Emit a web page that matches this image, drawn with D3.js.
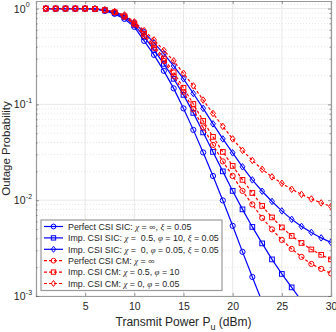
<!DOCTYPE html>
<html lang="en">
<head>
<meta charset="utf-8">
<title>Outage Probability</title>
<style>
body { margin: 0; background: #fff; }
text { font-family: "Liberation Sans", Arial, sans-serif; fill: #262626; }
.grid line { stroke: #e3e3e3; stroke-width: 0.8; }
.minor line { stroke: #d6d6d6; stroke-width: 0.6; stroke-dasharray: 1,2; }
.greek { font-family: "Liberation Serif", "DejaVu Serif", serif; font-style: italic; }
</style>
</head>
<body>
<div id="chart"></div>
<script src="https://d3js.org/d3.v7.min.js"></script>
<script>

const width = 336,
    height = 332,
    margin = ({ top: 1, right: 5, bottom: 36, left: 36 })

// transmit power (dBm)
var power = d3.range(1, 31);

var xTicks = [5, 10, 15, 20, 25, 30];
var yTicks = [1e-3, 1e-2, 1e-1, 1];
var yTickExp = ["-3", "-2", "-1", "0"];

// outage probability
var perfectSIC = [1, 1, 1, 1, 1, 0.99, 0.946, 0.88, 0.78, 0.644, 0.46, 0.329, 0.224, 0.147, 0.0908,
  0.0542, 0.0315, 0.0179, 0.00995, 0.0054, 0.00289, 0.00158, 0.000867, 0.00048];
var impSIC05 = [1, 1, 1, 1, 1, 0.992, 0.957, 0.902, 0.809, 0.676, 0.507, 0.371, 0.265, 0.185, 0.1257,
  0.0815, 0.051, 0.0319, 0.02, 0.0125, 0.00802, 0.00526, 0.00354, 0.00241, 0.0017, 0.00123, 0.00089, 0.00065];
var impSIC0 = [1, 1, 1, 1, 1, 0.994, 0.969, 0.924, 0.839, 0.709, 0.565, 0.438, 0.337, 0.252, 0.185,
  0.13, 0.0908, 0.0626, 0.0436, 0.0312, 0.0223, 0.0163, 0.0124, 0.0097, 0.00773, 0.00631, 0.00533, 0.00461, 0.00404, 0.00363];
var perfectCM = [1, 1, 1, 1, 1, 0.993, 0.962, 0.913, 0.819, 0.684, 0.519, 0.389, 0.284, 0.198, 0.135,
  0.0887, 0.0575, 0.0378, 0.0254, 0.0179, 0.0125, 0.00904, 0.00653, 0.00496, 0.00385, 0.0031, 0.00256, 0.00216, 0.00192, 0.00172];
var impCM05 = [1, 1, 1, 1, 1, 0.993, 0.965, 0.917, 0.829, 0.701, 0.545, 0.413, 0.302, 0.216, 0.149,
  0.101, 0.0673, 0.0458, 0.0319, 0.0228, 0.0163, 0.0119, 0.00871, 0.00661, 0.0052, 0.00424, 0.00358, 0.00306, 0.00269, 0.00241];
var impCM0 = [1, 1, 1, 1, 1, 0.995, 0.969, 0.93, 0.859, 0.727, 0.589, 0.471, 0.366, 0.285, 0.211,
  0.156, 0.111, 0.0805, 0.0589, 0.0436, 0.0331, 0.026, 0.021, 0.0175, 0.015, 0.013, 0.0115, 0.0103, 0.00937, 0.00861];

var series = [
  { values: perfectSIC, color: "#0000ff", dash: null, marker: "circle",
    label: [["Perfect CSI SIC: ", 0], ["χ", 1], [" = ∞, ", 0], ["ξ", 1], [" = 0.05", 0]] },
  { values: impSIC05, color: "#0000ff", dash: null, marker: "square",
    label: [["Imp. CSI SIC: ", 0], ["χ", 1], [" =  0.5, ", 0], ["φ", 1], [" = 10, ", 0], ["ξ", 1], [" = 0.05", 0]] },
  { values: impSIC0, color: "#0000ff", dash: null, marker: "diamond",
    label: [["Imp. CSI SIC: ", 0], ["χ", 1], [" =  0, ", 0], ["φ", 1], [" = 0.05, ", 0], ["ξ", 1], [" = 0.05", 0]] },
  { values: perfectCM, color: "#ff0000", dash: "3,2", marker: "circle",
    label: [["Perfect CSI CM: ", 0], ["χ", 1], [" = ∞", 0]] },
  { values: impCM05, color: "#ff0000", dash: "3,2", marker: "square",
    label: [["Imp. CSI CM: ", 0], ["χ", 1], [" = 0.5, ", 0], ["φ", 1], [" = 10", 0]] },
  { values: impCM0, color: "#ff0000", dash: "3,2", marker: "diamond",
    label: [["Imp. CSI CM: ", 0], ["χ", 1], [" = 0, ", 0], ["φ", 1], [" = 0.05", 0]] }
];

var svg = d3.select("#chart")
    .append("svg")
    .attr("width", width)
    .attr("height", height);

var x = d3.scaleLinear()
    .domain([0, 30])
    .range([margin.left, width - margin.right]);

var y = d3.scaleLog()
    .domain([1e-3, 1.2])
    .range([height - margin.bottom, margin.top]);

var x0 = x.range()[0], x1 = x.range()[1],
    y0 = y.range()[0], y1 = y.range()[1];

// minor grid (dotted)
var minorVals = [];
[1e-3, 1e-2, 1e-1].forEach(function(d) {
  for (var k = 2; k <= 9; k++) minorVals.push(d * k);
});
minorVals.push(1.1);

svg.append("g").attr("class", "minor")
  .selectAll("line").data(minorVals).enter().append("line")
    .attr("x1", x0).attr("x2", x1)
    .attr("y1", function(d) { return y(d); })
    .attr("y2", function(d) { return y(d); });

// major grid
var grid = svg.append("g").attr("class", "grid");
grid.selectAll(".gx").data(xTicks).enter().append("line")
    .attr("x1", function(d) { return x(d); })
    .attr("x2", function(d) { return x(d); })
    .attr("y1", y0).attr("y2", y1);
grid.selectAll(".gy").data(yTicks).enter().append("line")
    .attr("x1", x0).attr("x2", x1)
    .attr("y1", function(d) { return y(d); })
    .attr("y2", function(d) { return y(d); });

// axes (ticks inside, box on)
var axisColor = "#9a9a9a";
var xAxis = svg.append("g")
    .attr("transform", "translate(0," + y0 + ")")
    .call(d3.axisBottom(x).tickValues(xTicks).tickSize(-3).tickPadding(6.5).tickFormat(d3.format("d")));
var xAxisTop = svg.append("g")
    .attr("transform", "translate(0," + y1 + ")")
    .call(d3.axisTop(x).tickValues(xTicks).tickSize(-3).tickFormat(""));

var allY = yTicks.concat(minorVals.filter(function(d) { return d < 1; }));
var yAxis = svg.append("g")
    .attr("transform", "translate(" + x0 + ",0)")
    .call(d3.axisLeft(y).tickValues(allY).tickSize(-3).tickFormat(""));
var yAxisRight = svg.append("g")
    .attr("transform", "translate(" + x1 + ",0)")
    .call(d3.axisRight(y).tickValues(allY).tickSize(-3).tickFormat(""));

// shorter minor ticks
[yAxis, yAxisRight].forEach(function(a) {
  a.selectAll(".tick line")
    .attr("x2", function(d) {
      var s = yTicks.indexOf(d) >= 0 ? 3 : 1.6;
      return a === yAxis ? s : -s;
    });
});

[xAxis, xAxisTop, yAxis, yAxisRight].forEach(function(a) {
  a.select(".domain").attr("stroke", axisColor).attr("stroke-width", 1.2);
  a.selectAll(".tick line").attr("stroke", "#555").attr("stroke-width", 0.6);
});

xAxis.selectAll(".tick text")
    .attr("font-size", 10.5)
    .attr("fill", "#262626")
    .style("font-family", "Liberation Sans, Arial, sans-serif");

// y tick labels as 10^k
var yLab = svg.append("g");
yTicks.forEach(function(d, i) {
  yLab.append("text")
      .attr("x", 25.5)
      .attr("y", y(d) + 4)
      .attr("text-anchor", "end")
      .attr("font-size", 10.5)
      .text("10");
  yLab.append("text")
      .attr("x", 25.8)
      .attr("y", y(d) - 1.5)
      .attr("font-size", 7)
      .text(yTickExp[i]);
});

// series lines and markers
svg.append("clipPath").attr("id", "plotclip")
  .append("rect")
    .attr("x", x0).attr("y", y1)
    .attr("width", x1 - x0).attr("height", y0 - y1);

var line = d3.line()
    .x(function(d, i) { return x(power[i]); })
    .y(function(d) { return y(d); });

function drawMarker(g, type, cx, cy, color, r) {
  if (type === "circle") {
    g.append("circle").attr("cx", cx).attr("cy", cy).attr("r", r)
      .attr("fill", "none").attr("stroke", color).attr("stroke-width", 1);
  } else if (type === "square") {
    g.append("rect").attr("x", cx - r * 0.9).attr("y", cy - r * 0.9)
      .attr("width", 1.8 * r).attr("height", 1.8 * r)
      .attr("fill", "none").attr("stroke", color).attr("stroke-width", 1);
  } else {
    var rr = r * 1.25;
    g.append("path")
      .attr("d", "M" + cx + "," + (cy - rr) + "L" + (cx + rr * 0.75) + "," + cy +
           "L" + cx + "," + (cy + rr) + "L" + (cx - rr * 0.75) + "," + cy + "Z")
      .attr("fill", "none").attr("stroke", color).attr("stroke-width", 1);
  }
}

var plot = svg.append("g").attr("clip-path", "url(#plotclip)");

series.forEach(function(s) {
  plot.append("path")
      .datum(s.values)
      .attr("fill", "none")
      .attr("stroke", s.color)
      .attr("stroke-width", 1.2)
      .attr("stroke-dasharray", s.dash)
      .attr("d", line);
  var mg = plot.append("g");
  s.values.forEach(function(v, i) {
    drawMarker(mg, s.marker, x(power[i]), y(v), s.color, 2.6);
  });
});

// axis labels
var xl = svg.append("text")
    .attr("x", (x0 + x1) / 2)
    .attr("y", 326)
    .attr("text-anchor", "middle")
    .attr("font-size", 12)
    .attr("xml:space", "preserve");
xl.append("tspan").text("Transmit Power P");
xl.append("tspan").attr("font-size", 9).attr("dy", 3.5).text("u");
xl.append("tspan").attr("dy", -3.5).text(" (dBm)");

svg.append("text")
    .attr("transform", "translate(9.5," + ((y0 + y1) / 2) + ") rotate(-90)")
    .attr("text-anchor", "middle")
    .attr("font-size", 11.5)
    .text("Outage Probability");

// legend
var lg = svg.append("g").attr("transform", "translate(41,220)");
lg.append("rect")
    .attr("width", 181).attr("height", 70.5)
    .attr("fill", "#fff")
    .attr("stroke", axisColor)
    .attr("stroke-width", 1.2);

var texts = [];
series.forEach(function(s, i) {
  var cy = 6.5 + i * 11.4;
  lg.append("line")
      .attr("x1", 3).attr("x2", 22)
      .attr("y1", cy).attr("y2", cy)
      .attr("stroke", s.color)
      .attr("stroke-width", 1.2)
      .attr("stroke-dasharray", s.dash);
  drawMarker(lg, s.marker, 12.5, cy, s.color, 2.4);
  var t = lg.append("text")
      .attr("x", 27)
      .attr("y", cy + 3.2)
      .attr("font-size", 9)
      .attr("xml:space", "preserve");
  s.label.forEach(function(p) {
    t.append("tspan")
      .attr("class", p[1] ? "greek" : null)
      .text(p[0]);
  });
  texts.push(t);
});

// fit the longest entry inside the box
var longest = texts[1].node().getComputedTextLength();
var fs = Math.min(9, 9 * 151 / longest);
texts.forEach(function(t) { t.attr("font-size", fs); });

</script>
</body>
</html>
